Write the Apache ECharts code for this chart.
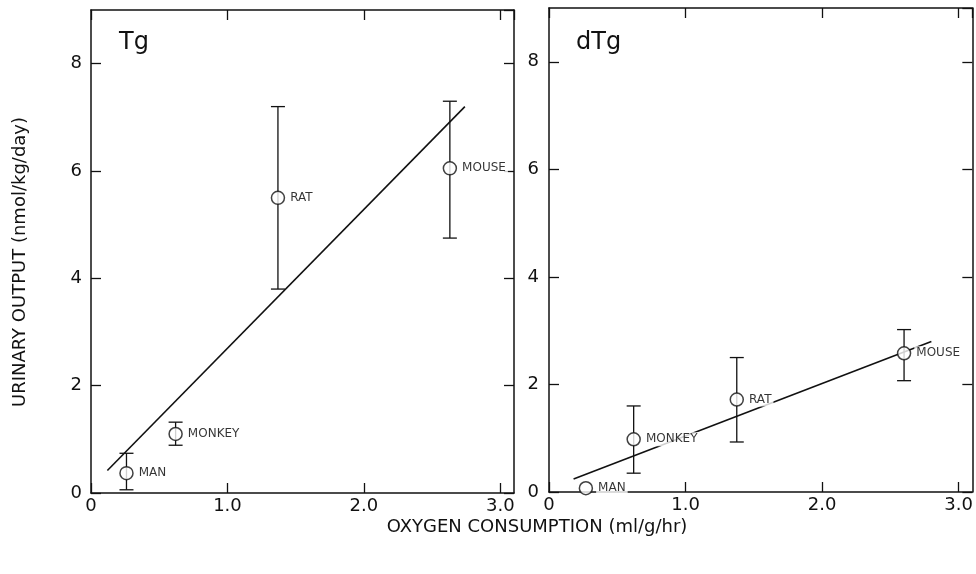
<!DOCTYPE html>
<html>
<head>
<meta charset="utf-8">
<title>Urinary output vs oxygen consumption</title>
<script src="https://cdn.jsdelivr.net/npm/echarts@6/dist/echarts.min.js"></script>
<style>
  html, body { margin: 0; padding: 0; background: #fff; }
  #chart { width: 976px; height: 574px; }
</style>
</head>
<body>
<div id="chart"></div>
<script>
// species, same order in both panels
const species = ['MAN', 'MONKEY', 'RAT', 'MOUSE'];

// Tg panel (left)
const tgX = [0.26, 0.62, 1.37, 2.63];
const tgY = [0.37, 1.1, 5.5, 6.05];
const tgLow = [0.06, 0.89, 3.8, 4.75];
const tgHigh = [0.74, 1.32, 7.2, 7.3];
const tgFitX = [0.12, 2.74];
const tgFitY = [0.42, 7.2];

// dTg panel (right)
const dtgX = [0.27, 0.62, 1.375, 2.6];
const dtgY = [0.07, 0.98, 1.72, 2.58];
const dtgLow = [null, 0.35, 0.93, 2.07];
const dtgHigh = [null, 1.6, 2.5, 3.02];
const dtgFitX = [0.18, 2.8];
const dtgFitY = [0.24, 2.8];

const xTicks = [0, 1, 2, 3];
const yTicks = [0, 2, 4, 6, 8];

const font = 'DejaVu Sans, Liberation Sans, sans-serif';

function pts(xs, ys) {
  return xs.map((x, i) => [x, ys[i]]);
}

function errData(xs, lo, hi) {
  const out = [];
  xs.forEach((x, i) => {
    if (lo[i] != null) out.push([x, lo[i], hi[i]]);
  });
  return out;
}

// vertical bar with caps
function renderErr(params, api) {
  const lo = api.coord([api.value(0), api.value(1)]);
  const hi = api.coord([api.value(0), api.value(2)]);
  const w = 7;
  const st = { stroke: '#111', lineWidth: 1.3 };
  return {
    type: 'group',
    children: [
      { type: 'line', shape: { x1: lo[0], y1: lo[1], x2: hi[0], y2: hi[1] }, style: st },
      { type: 'line', shape: { x1: lo[0] - w, y1: lo[1], x2: lo[0] + w, y2: lo[1] }, style: st },
      { type: 'line', shape: { x1: hi[0] - w, y1: hi[1], x2: hi[0] + w, y2: hi[1] }, style: st }
    ]
  };
}

const axisLine = { onZero: false, lineStyle: { color: '#111', width: 1.5 } };
const tick = { inside: true, length: 10, lineStyle: { color: '#111', width: 1.3 } };

function xAxes(gi) {
  return [
    {
      type: 'value', gridIndex: gi, position: 'bottom', min: 0, max: 3.1, interval: 1,
      axisLine: axisLine, axisTick: tick, splitLine: { show: false },
      axisLabel: {
        margin: 4, fontSize: 18, color: '#111', fontFamily: font, showMaxLabel: false,
        formatter: v => (xTicks.indexOf(v) < 0 ? '' : (v === 0 ? '0' : v.toFixed(1)))
      }
    },
    {
      type: 'value', gridIndex: gi, position: 'top', min: 0, max: 3.1, interval: 1,
      axisLine: axisLine, axisTick: tick, splitLine: { show: false },
      axisLabel: { show: false }
    }
  ];
}

function yAxes(gi, margin) {
  return [
    {
      type: 'value', gridIndex: gi, position: 'left', min: 0, max: 9, interval: 2,
      axisLine: axisLine, axisTick: tick, splitLine: { show: false },
      axisLabel: {
        margin: margin, fontSize: 18, color: '#111', fontFamily: font, showMaxLabel: false,
        formatter: v => (yTicks.indexOf(v) < 0 ? '' : String(v))
      }
    },
    {
      type: 'value', gridIndex: gi, position: 'right', min: 0, max: 9, interval: 2,
      axisLine: axisLine, axisTick: tick, splitLine: { show: false },
      axisLabel: { show: false }
    }
  ];
}

function panelSeries(axisIdx, xs, ys, lo, hi, fx, fy) {
  return [
    {
      type: 'line', xAxisIndex: axisIdx, yAxisIndex: axisIdx,
      data: pts(fx, fy), symbol: 'none', silent: true, z: 1,
      lineStyle: { color: '#111', width: 1.6 }
    },
    {
      type: 'custom', xAxisIndex: axisIdx, yAxisIndex: axisIdx,
      data: errData(xs, lo, hi), renderItem: renderErr, z: 2,
      encode: { x: 0, y: [1, 2] }
    },
    {
      type: 'scatter', xAxisIndex: axisIdx, yAxisIndex: axisIdx, z: 3,
      data: xs.map((x, i) => ({ value: [x, ys[i]], name: species[i] })),
      symbol: 'circle', symbolSize: 13,
      itemStyle: { color: '#fff', borderColor: '#111', borderWidth: 1.5 },
      label: {
        show: true, position: 'right', distance: 3, formatter: '{b}',
        fontSize: 12, color: '#000', fontFamily: font,
        backgroundColor: '#fff', padding: [1, 2]
      }
    }
  ];
}

const chart = echarts.init(document.getElementById('chart'));

chart.setOption({
  backgroundColor: '#fff',
  animation: false,
  grid: [
    { left: 91, top: 10, width: 423, height: 483 },
    { left: 549, top: 8, width: 424, height: 484 }
  ],
  xAxis: xAxes(0).concat(xAxes(1)),
  yAxis: yAxes(0, 9).concat(yAxes(1, 10)),
  series: panelSeries(0, tgX, tgY, tgLow, tgHigh, tgFitX, tgFitY)
    .concat(panelSeries(2, dtgX, dtgY, dtgLow, dtgHigh, dtgFitX, dtgFitY)),
  graphic: [
    { type: 'text', left: 119, top: 31, style: { text: 'Tg', fontSize: 24, fill: '#111', fontFamily: font } },
    { type: 'text', left: 576, top: 31, style: { text: 'dTg', fontSize: 24, fill: '#111', fontFamily: font } },
    {
      type: 'text', x: 20, y: 262, rotation: Math.PI / 2,
      style: {
        text: 'URINARY OUTPUT (nmol/kg/day)', fontSize: 18, fill: '#111', fontFamily: font,
        align: 'center', verticalAlign: 'middle'
      }
    },
    {
      type: 'text', x: 537, y: 527,
      style: {
        text: 'OXYGEN CONSUMPTION (ml/g/hr)', fontSize: 18, fill: '#111', fontFamily: font,
        align: 'center', verticalAlign: 'middle'
      }
    }
  ]
});
</script>
</body>
</html>
